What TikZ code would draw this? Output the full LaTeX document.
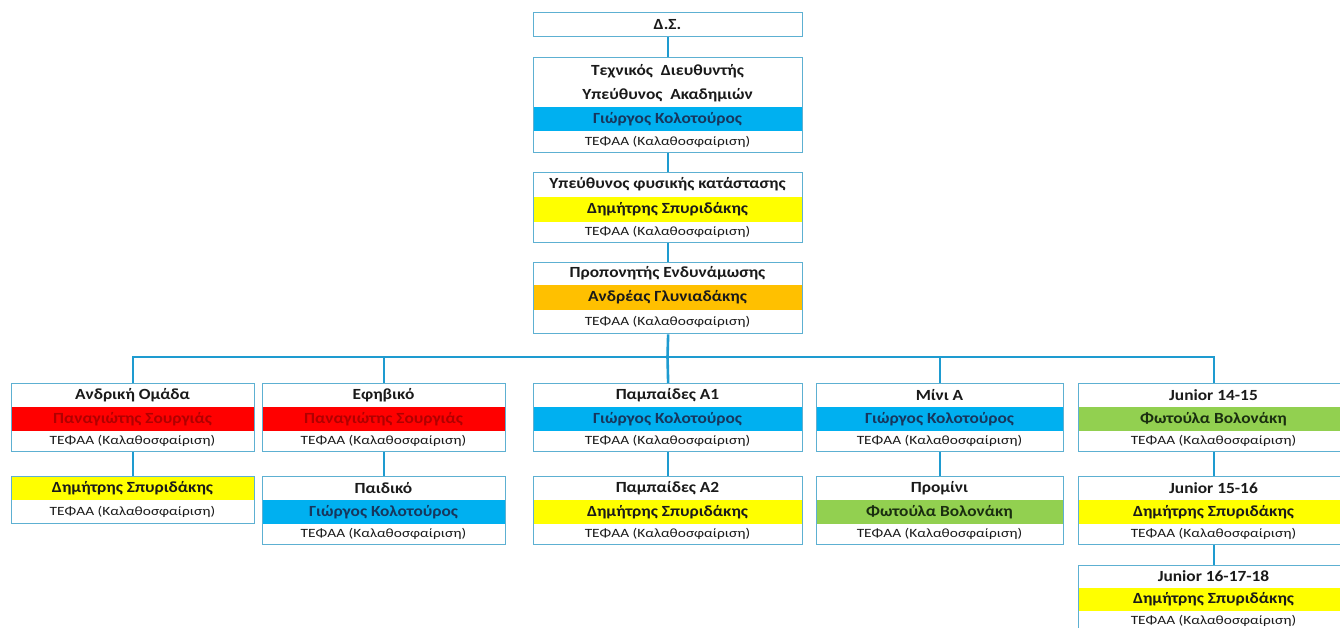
\documentclass[tikz,border=0pt]{standalone}
\usepackage{fontspec}
\setmainfont{Carlito}
\newfontfamily\hdfont[FakeStretch=1.12]{Carlito}
\newfontfamily\subfont[FakeStretch=1.22]{Carlito}
\definecolor{framec}{HTML}{5DB0D2}
\definecolor{linkc}{HTML}{1E9BD0}
\definecolor{bblue}{HTML}{00B0F0}
\definecolor{bred}{HTML}{FF0000}
\definecolor{byellow}{HTML}{FFFF00}
\definecolor{borange}{HTML}{FFC000}
\definecolor{bgreen}{HTML}{92D050}
\definecolor{tblue}{HTML}{17365D}
\definecolor{tred}{HTML}{B00000}
\definecolor{tdark}{HTML}{1A1A1A}
\definecolor{tgreen}{HTML}{1A2E10}
\begin{document}
\begin{tikzpicture}[x=1pt,y=-1pt,
  frame/.style={draw=framec,line width=1.3pt,inner sep=0pt,anchor=north west},
  hdr/.style={font=\hdfont\bfseries\fontsize{15.5}{17}\selectfont,text=tdark,inner sep=0pt},
  nm/.style={font=\hdfont\bfseries\fontsize{15.5}{17}\selectfont,inner sep=0pt},
  sub/.style={font=\subfont\fontsize{12.6}{14}\selectfont,text=tdark,inner sep=0pt},
  link/.style={draw=linkc,line width=2.6pt}]
\useasboundingbox (0,0) rectangle (1340,627);
\clip (0,0) rectangle (1340,627);
\fill[white] (0,0) rectangle (1340,627);

% ---------- central column ----------
\node[frame,minimum width=269pt,minimum height=24pt] (ds) at (533,12) {};
\node[hdr] (dst) at (667.5,24.5) {Δ.Σ.};

\fill[bblue] (533,107) rectangle (802,131);
\node[frame,minimum width=269pt,minimum height=95pt] (td) at (533,57) {};
\node[hdr] (td1) at (667.5,71) {Τεχνικός\ \ Διευθυντής};
\node[hdr] (td2) at (667.5,95) {Υπεύθυνος\ \ Ακαδημιών};
\node[nm,text=tblue] (td3) at (667.5,119) {Γιώργος Κολοτούρος};
\node[sub] (td4) at (667.5,141.5) {ΤΕΦΑΑ (Καλαθοσφαίριση)};

\fill[byellow] (533,197) rectangle (802,222);
\node[frame,minimum width=269pt,minimum height=70pt] (fk) at (533,172) {};
\node[hdr] (fk1) at (667.5,184.5) {Υπεύθυνος φυσικής κατάστασης};
\node[nm,text=tdark] (fk2) at (667.5,209.5) {Δημήτρης Σπυριδάκης};
\node[sub] (fk3) at (667.5,232) {ΤΕΦΑΑ (Καλαθοσφαίριση)};

\fill[borange] (533,285) rectangle (802,310);
\node[frame,minimum width=269pt,minimum height=71pt] (pe) at (533,262) {};
\node[hdr] (pe1) at (667.5,273.5) {Προπονητής Ενδυνάμωσης};
\node[nm,text=tdark] (pe2) at (667.5,297.5) {Ανδρέας Γλυνιαδάκης};
\node[sub] (pe3) at (667.5,321.5) {ΤΕΦΑΑ (Καλαθοσφαίριση)};

% ---------- row 1 ----------
\fill[bred] (11,407) rectangle (254,431);
\node[frame,minimum width=243pt,minimum height=68pt] (c1) at (11,383) {};
\node[hdr] (c1a) at (132.5,395) {Ανδρική Ομάδα};
\node[nm,text=tred] (c1b) at (132.5,419) {Παναγιώτης Σουργιάς};
\node[sub] (c1c) at (132.5,441) {ΤΕΦΑΑ (Καλαθοσφαίριση)};

\fill[bred] (262,407) rectangle (505,431);
\node[frame,minimum width=243pt,minimum height=68pt] (c2) at (262,383) {};
\node[hdr] (c2a) at (383.5,395) {Εφηβικό};
\node[nm,text=tred] (c2b) at (383.5,419) {Παναγιώτης Σουργιάς};
\node[sub] (c2c) at (383.5,441) {ΤΕΦΑΑ (Καλαθοσφαίριση)};

\fill[bblue] (533,407) rectangle (802,431);
\node[frame,minimum width=269pt,minimum height=68pt] (c3) at (533,383) {};
\node[hdr] (c3a) at (667.5,395) {Παμπαίδες Α1};
\node[nm,text=tblue] (c3b) at (667.5,419) {Γιώργος Κολοτούρος};
\node[sub] (c3c) at (667.5,441) {ΤΕΦΑΑ (Καλαθοσφαίριση)};

\fill[bblue] (816,407) rectangle (1063,431);
\node[frame,minimum width=247pt,minimum height=68pt] (c4) at (816,383) {};
\node[hdr] (c4a) at (939.5,395) {Μίνι Α};
\node[nm,text=tblue] (c4b) at (939.5,419) {Γιώργος Κολοτούρος};
\node[sub] (c4c) at (939.5,441) {ΤΕΦΑΑ (Καλαθοσφαίριση)};

\fill[bgreen] (1078,407) rectangle (1349,431);
\node[frame,minimum width=271pt,minimum height=68pt] (c5) at (1078,383) {};
\node[hdr] (c5a) at (1213.5,395) {Junior 14-15};
\node[nm,text=tgreen] (c5b) at (1213.5,419) {Φωτούλα Βολονάκη};
\node[sub] (c5c) at (1213.5,441) {ΤΕΦΑΑ (Καλαθοσφαίριση)};

% ---------- row 2 ----------
\fill[byellow] (11,476) rectangle (254,500);
\node[frame,minimum width=243pt,minimum height=47pt] (d1) at (11,476) {};
\node[nm,text=tdark] (d1b) at (132.5,488) {Δημήτρης Σπυριδάκης};
\node[sub] (d1c) at (132.5,511.5) {ΤΕΦΑΑ (Καλαθοσφαίριση)};

\fill[bblue] (262,500) rectangle (505,524);
\node[frame,minimum width=243pt,minimum height=68pt] (d2) at (262,476) {};
\node[hdr] (d2a) at (383.5,488) {Παιδικό};
\node[nm,text=tblue] (d2b) at (383.5,512) {Γιώργος Κολοτούρος};
\node[sub] (d2c) at (383.5,534) {ΤΕΦΑΑ (Καλαθοσφαίριση)};

\fill[byellow] (533,500) rectangle (802,524);
\node[frame,minimum width=269pt,minimum height=68pt] (d3) at (533,476) {};
\node[hdr] (d3a) at (667.5,488) {Παμπαίδες Α2};
\node[nm,text=tdark] (d3b) at (667.5,512) {Δημήτρης Σπυριδάκης};
\node[sub] (d3c) at (667.5,534) {ΤΕΦΑΑ (Καλαθοσφαίριση)};

\fill[bgreen] (816,500) rectangle (1063,524);
\node[frame,minimum width=247pt,minimum height=68pt] (d4) at (816,476) {};
\node[hdr] (d4a) at (939.5,488) {Προμίνι};
\node[nm,text=tgreen] (d4b) at (939.5,512) {Φωτούλα Βολονάκη};
\node[sub] (d4c) at (939.5,534) {ΤΕΦΑΑ (Καλαθοσφαίριση)};

\fill[byellow] (1078,500) rectangle (1349,524);
\node[frame,minimum width=271pt,minimum height=68pt] (d5) at (1078,476) {};
\node[hdr] (d5a) at (1213.5,488) {Junior 15-16};
\node[nm,text=tdark] (d5b) at (1213.5,512) {Δημήτρης Σπυριδάκης};
\node[sub] (d5c) at (1213.5,534) {ΤΕΦΑΑ (Καλαθοσφαίριση)};

% ---------- row 3 ----------
\fill[byellow] (1078,588) rectangle (1349,611);
\node[frame,minimum width=271pt,minimum height=68pt] (e5) at (1078,565) {};
\node[hdr] (e5a) at (1213.5,576.5) {Junior 16-17-18};
\node[nm,text=tdark] (e5b) at (1213.5,599.5) {Δημήτρης Σπυριδάκης};
\node[sub] (e5c) at (1213.5,621) {ΤΕΦΑΑ (Καλαθοσφαίριση)};

% ---------- connectors ----------
\coordinate (bus) at (667.5,357);
\draw[link] (ds.south) -- (td.north);
\draw[link] (td.south) -- (fk.north);
\draw[link] (fk.south) -- (pe.north);
\draw[link] (pe.south) -- (bus);
\draw[link] (c1.north) |- (bus);
\draw[link] (bus) -| (c5.north);
\draw[link] (bus) -| (c2.north);
\draw[link] (bus) -- (c3.north);
\draw[link] (bus) -| (c4.north);
\draw[link] (c1.south) -- (d1.north);
\draw[link] (c2.south) -- (d2.north);
\draw[link] (c3.south) -- (d3.north);
\draw[link] (c4.south) -- (d4.north);
\draw[link] (c5.south) -- (d5.north);
\draw[link] (d5.south) -- (e5.north);
\end{tikzpicture}
\end{document}
